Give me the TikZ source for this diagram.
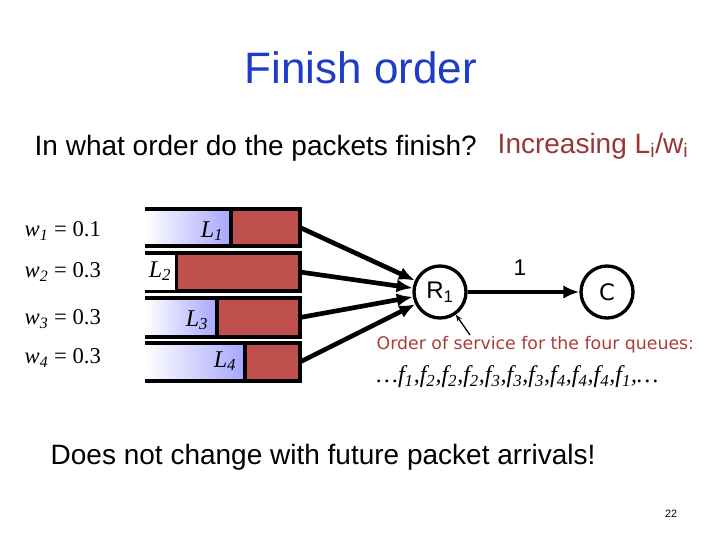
\documentclass[tikz,border=0pt]{standalone}
\usepackage{fontspec}
\setmainfont{Liberation Sans}
\newfontfamily\tms{Liberation Serif}
\newfontfamily\cms{DejaVu Sans}
\usetikzlibrary{arrows.meta}
\definecolor{qred}{RGB}{192,80,77}
\definecolor{tblue}{RGB}{30,60,200}
\definecolor{ored}{RGB}{170,60,60}
\begin{document}
\begin{tikzpicture}[x=0.75pt,y=-0.75pt,
  q/.style={line width=3pt},
  nd/.style={circle,draw,line width=2.5pt,minimum size=39pt,inner sep=0pt,font=\fontsize{18}{18}\selectfont},
  ar/.style={line width=3.5pt,-{Latex[length=12pt,width=10pt]}},
  wl/.style={font=\tms\fontsize{17}{18}\selectfont,anchor=west},
  ll/.style={font=\tms\itshape\fontsize{18}{18}\selectfont}]
\useasboundingbox (0,0) rectangle (720,540);
\node[text=tblue,font=\fontsize{33}{36}\selectfont] (title) at (361,68) {Finish order};
\node[font=\fontsize{21}{24}\selectfont,anchor=west] (q) at (30,148) {In what order do the packets finish?};
\node[text=ored!90!black,font=\fontsize{21}{24}\selectfont,anchor=west] (inc) at (493,146) {Increasing L\textsubscript{i}/w\textsubscript{i}};
% queues
\foreach \n/\t/\b/\r in {1/209/246/231,2/253/291/176,3/298/337/217,4/343/381/245}{
  \shade[left color=white,right color=blue!35] (145,\t) rectangle (\r,\b);
  \fill[qred] (\r,\t) rectangle (300,\b);
  \draw[q] (145,\t) -- (300,\t) -- (300,\b) -- (145,\b);
  \draw[q] (\r,\t) -- (\r,\b);
  \coordinate (e\n) at (300,{(\t+\b)/2});
}
\fill[white] (145,254.5) rectangle (174.5,289.5);
\node[ll] (L1) at (212,231) {L\textsubscript{1}};
\node[ll] (L2) at (160,271) {L\textsubscript{2}};
\node[ll] (L3) at (197,320) {L\textsubscript{3}};
\node[ll] (L4) at (225,361) {L\textsubscript{4}};
\node[wl] (w1) at (20,231) {\textit{w\textsubscript{1}} = 0.1};
\node[wl] (w2) at (20,272) {\textit{w\textsubscript{2}} = 0.3};
\node[wl] (w3) at (20,319) {\textit{w\textsubscript{3}} = 0.3};
\node[wl] (w4) at (20,358) {\textit{w\textsubscript{4}} = 0.3};
\node[nd] (R) at (440,292) {R\textsubscript{1}};
\node[nd,font=\cms\fontsize{17}{17}\selectfont] (C) at (607,292) {C};
\foreach \n in {1,...,4} \draw[ar] (e\n) -- (R);
\draw[ar] (R) -- (C);
\node[font=\fontsize{17}{17}\selectfont] (one) at (520,268) {1};
\node[text=ored,font=\cms\fontsize{13}{13}\selectfont,anchor=west] (ord) at (372,345) {Order of service for the four queues:};
\coordinate (pt) at (470,335);
\draw[line width=1pt,-{Stealth[length=5pt]}] (pt) -- (R);
\node[font=\tms\itshape\fontsize{18}{18}\selectfont,anchor=west] (seq) at (372,377) {\dots f\textsubscript{1},f\textsubscript{2},f\textsubscript{2},f\textsubscript{2},f\textsubscript{3},f\textsubscript{3},f\textsubscript{3},f\textsubscript{4},f\textsubscript{4},f\textsubscript{4},f\textsubscript{1},\dots};
\node[font=\fontsize{21}{24}\selectfont,anchor=west] (d) at (46,457) {Does not change with future packet arrivals!};
\node[font=\fontsize{8}{8}\selectfont] (pg) at (671,514) {22};
\end{tikzpicture}
\end{document}
